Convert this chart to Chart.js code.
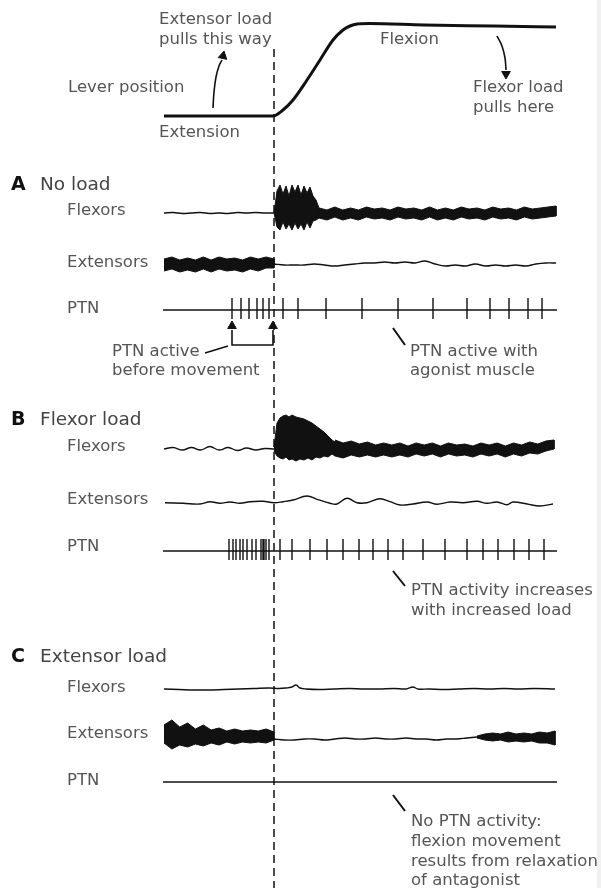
<!DOCTYPE html>
<html>
<head>
<meta charset="utf-8">
<title>PTN activity with and without load</title>
<script src="https://cdn.jsdelivr.net/npm/chart.js@4.4.1/dist/chart.umd.min.js"></script>
<style>
  html, body { margin: 0; padding: 0; background: #fff; }
  canvas { display: block; }
</style>
</head>
<body>
<canvas id="fig" width="601" height="888"></canvas>
<script>
// Figure units: x in px from the left, t in px from movement onset,
// trace values in px above each trace's baseline.
const ONSET_X = 274;

// ---- lever position (0 = extension, up = flexion)
const leverT   = [-110, -1, 9, 19, 33, 46, 59, 69, 76, 83, 95, 150, 220, 282];
const leverPos = [0, 0, 6, 16, 36, 56, 76, 86, 90, 92, 92.5, 91, 90, 89];

// ---- A: no load
const aFlexPre   = [0, 0.5, -0.5, 0, 0.5, -0.5, 0, -0.5, 0.5, 0, 0.5, 0, 0];
const aBurstT    = [0, 3, 6, 9, 12, 15, 18, 21, 24, 27, 30, 33, 36, 39, 42, 45];
const aBurstHi   = [0, 22, 28, 19, 27, 17, 28, 21, 28, 18, 27, 20, 26, 17, 13, 5];
const aBurstLo   = [0, -14, -17, -9, -16, -11, -17, -10, -16, -11, -17, -9, -15, -8, -7, -5];
const aFlexHi    = [5, 3, 6, 3, 5, 3, 6, 4, 5, 3, 6, 4, 5, 3, 6, 3, 5, 3, 6, 4, 5, 3, 6, 4, 5, 3, 6, 4, 5, 6, 7];
const aFlexLo    = [-5, -7, -4, -7, -5, -7, -4, -6, -5, -7, -4, -6, -5, -7, -4, -7, -5, -7, -4, -6, -5, -7, -4, -6, -5, -7, -4, -6, -5, -4, -3];
const aExtHi     = [5, 7, 4, 6, 4, 7, 4, 7, 5, 6, 4, 7, 5, 7, 5];
const aExtLo     = [-7, -5, -8, -6, -8, -5, -8, -5, -7, -6, -8, -5, -7, -4, -4];
const aExtPost   = [0, -1, -1, -1, 0, -1, -2, -1, 0, 1, 1, 2, 1, 2, 1, 3, 0, -2, -1, -2, 0, -2, -1, -2, -1, -2, 0, 1, 1];
const aSpikes    = [-42, -33, -25, -17, -11, -5, 9, 24, 52, 88, 124, 159, 193, 216, 235, 254, 268];

// ---- B: flexor load
const bFlexPre   = [0, 1.5, -1, 1.5, -1, 2.5, -1, 1.5, -1.5, 1, -1, 0.5, 0];
const bBurstT    = [0, 3, 6, 9, 12, 15, 18, 22, 26, 30, 34, 38, 42, 46, 50, 54, 58, 61];
const bBurstHi   = [2, 26, 31, 33, 34, 32, 34, 32, 31, 30, 28, 26, 23, 20, 17, 13, 9, 7];
const bBurstLo   = [-2, -7, -9, -10, -8, -11, -10, -12, -10, -11, -9, -11, -8, -9, -7, -8, -5, -7];
const bFlexHi    = [9, 6, 8, 5, 7, 4, 6, 4, 6, 3, 6, 4, 6, 3, 6, 4, 5, 3, 6, 4, 6, 3, 6, 4, 7, 5, 8, 9];
const bFlexLo    = [-7, -9, -6, -8, -6, -8, -6, -8, -6, -8, -5, -7, -5, -8, -5, -7, -6, -8, -5, -7, -5, -8, -5, -7, -4, -5, -2, 0];
const bExtT      = [-109, -91, -74, -64, -54, -44, -34, -24, -11, 0, 9, 19, 33, 43, 56, 63, 73, 83, 93, 106,
                    116, 126, 139, 153, 163, 176, 189, 203, 213, 223, 233, 239, 253, 266, 279];
const bExtV      = [0.3, -0.3, -1, 1.3, -0.3, 1, -0.3, 1.3, 1.7, 0.3, 1.3, 3, 7, 3.7, -0.3, -1, 4.7, 0.3, 0.3, 4.3,
                    1.3, -2, -1, 1, -1.3, 1, 0.3, 1.7, -0.3, 1, -1.7, 1, -1, -3, -1];
const bSpikes    = [-45, -41, -38, -34, -31, -27, -22, -18, -13, -11, -10, -8, -5, 6, 18, 36, 53, 69, 85, 99,
                    114, 129, 149, 171, 193, 209, 224, 240, 255, 270];

// ---- C: extensor load
const cFlexT     = [-110, -95, -80, -65, -50, -35, -20, -5, 5, 12, 18, 22, 26, 32, 45, 60, 75, 90, 105, 120,
                    132, 139, 144, 155, 170, 185, 200, 215, 230, 245, 260, 281];
const cFlexV     = [0, -0.5, -1, -1, -0.5, 0, 0.5, 1, 0.5, 1, 2, 4, 1, 0, -0.5, 0, 0.5, 0, 0, 0.5,
                    0, 2, 0, 0, -0.5, 0, 0.5, 0, 0.5, 0, 0.5, 0];
const cExtHi     = [12, 17, 10, 14, 8, 12, 7, 9, 6, 8, 6, 7, 6, 8, 5];
const cExtLo     = [-6, -12, -8, -10, -7, -9, -6, -8, -5, -7, -5, -6, -5, -6, -3];
const cExtMid    = [-2, -3, -3, -2, -2, -3, -2, -1, -2, -2, -1, -2, -2, -1, -2, -2, -3, -2, -2, -1, 0];
const cExtLateHi = [1, 3, 4, 3, 5, 3, 4, 3, 5, 4, 6];
const cExtLateLo = [-1, -3, -4, -3, -5, -4, -5, -4, -6, -6, -8];

// ---- layout: baselines of each row (px from top)
const ROW = { lever: 116, aFlex: 213, aExt: 264, aPtn: 310, bFlex: 449, bExt: 503, bPtn: 551,
              cFlex: 689, cExt: 737, cPtn: 782 };
const TRACE_START = -111, TRACE_END = 283;

// annotation arrows and leader lines, [x, y] in px
const extArrow   = [[213, 108], [214, 92], [216, 77], [219, 66], [222, 60]];
const flxArrow   = [[497, 36], [502, 46], [505, 58], [506, 70]];
const bracket    = [[232, 330], [232, 345], [273, 345], [273, 330]];
const bracketTag = [[205, 353], [228, 346]];
const leaders    = [[[393, 328], [405, 345]], [[393, 571], [405, 586]], [[393, 795], [405, 811]]];
const heads      = [[223, 56, 12], [506, 74, 180], [232, 326, 0], [273, 326, 0]];

const INK = '#111';
const TEXT = '#555';

// evenly spaced sample times for a typed value array
function spread(t0, t1, n) {
    const out = [];
    for (let i = 0; i < n; i++) out.push(t0 + (t1 - t0) * i / (n - 1));
    return out;
}

function lineDs(ts, vs, base, extra) {
    return Object.assign({
        data: ts.map((t, i) => ({ x: ONSET_X + t, y: base - vs[i] })),
        showLine: true, borderColor: INK, borderWidth: 1.4, tension: 0.4,
        pointRadius: 0, fill: false
    }, extra || {});
}

// thick EMG noise drawn as a filled envelope between hi and lo
function bandDs(ts, hi, lo, base) {
    const up = ts.map((t, i) => ({ x: ONSET_X + t, y: base - hi[i] }));
    const down = ts.map((t, i) => ({ x: ONSET_X + t, y: base - lo[i] })).reverse();
    return {
        data: up.concat(down), showLine: true, borderColor: INK, borderWidth: 1,
        backgroundColor: INK, fill: 'shape', tension: 0, pointRadius: 0
    };
}

function spikeDs(ts, base) {
    const pts = [];
    ts.forEach(t => {
        pts.push({ x: ONSET_X + t, y: base - 12 }, { x: ONSET_X + t, y: base + 9 }, { x: ONSET_X + t, y: null });
    });
    return { data: pts, showLine: true, spanGaps: false, borderColor: INK, borderWidth: 1.4, pointRadius: 0 };
}

function pathDs(points, extra) {
    return Object.assign({
        data: points.map(p => ({ x: p[0], y: p[1] })),
        showLine: true, borderColor: INK, borderWidth: 1.6, pointRadius: 0, tension: 0.4
    }, extra || {});
}

const flat = [0, 0];
const flatT = [TRACE_START, TRACE_END];

const datasets = [
    // lever
    lineDs(leverT, leverPos, ROW.lever, { borderWidth: 3, cubicInterpolationMode: 'monotone' }),
    // movement onset
    pathDs([[ONSET_X, 49], [ONSET_X, 888]], { borderWidth: 1.5, borderDash: [8, 5], tension: 0 }),

    // A
    lineDs(spread(-110, 0, 13), aFlexPre, ROW.aFlex),
    bandDs(aBurstT, aBurstHi, aBurstLo, ROW.aFlex),
    bandDs(spread(45, 282, 31), aFlexHi, aFlexLo, ROW.aFlex),
    bandDs(spread(-110, 0, 15), aExtHi, aExtLo, ROW.aExt),
    lineDs(spread(0, 282, 29), aExtPost, ROW.aExt),
    lineDs(flatT, flat, ROW.aPtn, { tension: 0 }),
    spikeDs(aSpikes, ROW.aPtn),

    // B
    lineDs(spread(-110, 0, 13), bFlexPre, ROW.bFlex),
    bandDs(bBurstT, bBurstHi, bBurstLo, ROW.bFlex),
    bandDs(spread(61, 280, 28), bFlexHi, bFlexLo, ROW.bFlex),
    lineDs(bExtT, bExtV, ROW.bExt),
    lineDs(flatT, flat, ROW.bPtn, { tension: 0 }),
    spikeDs(bSpikes, ROW.bPtn),

    // C
    lineDs(cFlexT, cFlexV, ROW.cFlex),
    bandDs(spread(-110, 0, 15), cExtHi, cExtLo, ROW.cExt),
    lineDs(spread(0, 203, 21), cExtMid, ROW.cExt),
    bandDs(spread(203, 281, 11), cExtLateHi, cExtLateLo, ROW.cExt),
    lineDs(flatT, flat, ROW.cPtn, { tension: 0 }),

    // annotations
    pathDs(extArrow),
    pathDs(flxArrow),
    pathDs(bracket, { tension: 0 }),
    pathDs(bracketTag, { tension: 0 }),
    ...leaders.map(l => pathDs(l, { tension: 0, borderWidth: 2 })),
    {
        data: heads.map(h => ({ x: h[0], y: h[1] })),
        pointStyle: 'triangle', pointRadius: 5, pointRotation: heads.map(h => h[2]),
        pointBackgroundColor: INK, pointBorderColor: INK, pointBorderWidth: 1, showLine: false
    }
];

// text labels: [text, x, y, size, colour, weight]
const labels = [
    ['Extensor load', 159, 20], ['pulls this way', 159, 40],
    ['Lever position', 68, 88], ['Extension', 159, 133],
    ['Flexion', 380, 40], ['Flexor load', 473, 88], ['pulls here', 473, 108],

    ['A', 11, 185, 19, '#111', 'bold'], ['No load', 40, 185, 18.5, '#444'],
    ['Flexors', 67, 211], ['Extensors', 67, 263], ['PTN', 67, 309],
    ['PTN active', 112, 352], ['before movement', 112, 371],
    ['PTN active with', 410, 352], ['agonist muscle', 410, 371],

    ['B', 11, 420, 19, '#111', 'bold'], ['Flexor load', 40, 420, 18.5, '#444'],
    ['Flexors', 67, 447], ['Extensors', 67, 500], ['PTN', 67, 547],
    ['PTN activity increases', 411, 591], ['with increased load', 411, 611],

    ['C', 11, 657, 19, '#111', 'bold'], ['Extensor load', 40, 657, 18.5, '#444'],
    ['Flexors', 67, 688], ['Extensors', 67, 734], ['PTN', 67, 781],
    ['No PTN activity:', 411, 822], ['flexion movement', 411, 842],
    ['results from relaxation', 411, 862], ['of antagonist', 411, 881]
];

const figureText = {
    id: 'figureText',
    beforeDraw(chart) {
        const ctx = chart.ctx;
        ctx.save();
        ctx.fillStyle = '#f1f1f1';
        ctx.fillRect(597, 0, 4, chart.height);
        ctx.restore();
    },
    afterDraw(chart) {
        const ctx = chart.ctx;
        const xs = chart.scales.x, ys = chart.scales.y;
        ctx.save();
        ctx.textAlign = 'left';
        ctx.textBaseline = 'middle';
        labels.forEach(l => {
            const size = l[3] || 16.5;
            ctx.font = (l[5] || 'normal') + ' ' + size + 'px "DejaVu Sans", sans-serif';
            ctx.fillStyle = l[4] || TEXT;
            ctx.fillText(l[0], xs.getPixelForValue(l[1]), ys.getPixelForValue(l[2]));
        });
        ctx.restore();
    }
};

new Chart(document.getElementById('fig'), {
    type: 'scatter',
    data: { datasets },
    options: {
        responsive: false,
        animation: false,
        devicePixelRatio: 1,
        layout: { padding: 0, autoPadding: false },
        plugins: { legend: { display: false }, tooltip: { enabled: false } },
        scales: {
            x: { type: 'linear', min: 0, max: 601, display: false },
            y: { type: 'linear', min: 0, max: 888, reverse: true, display: false }
        },
        elements: { point: { radius: 0 } }
    },
    plugins: [figureText]
});
</script>
</body>
</html>
